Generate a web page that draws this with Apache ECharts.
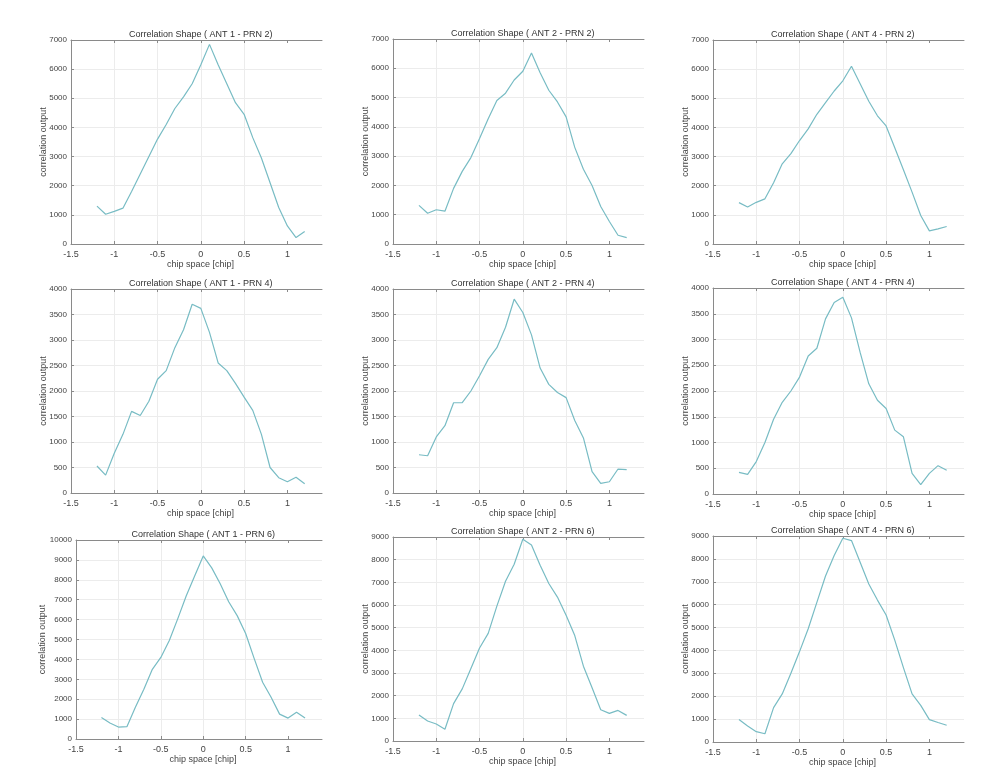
<!DOCTYPE html>
<html>
<head>
<meta charset="utf-8">
<script src="https://cdn.jsdelivr.net/npm/echarts@6/dist/echarts.min.js"></script>
<style>
    html, body { margin: 0; padding: 0; background: #fff; }
    #chartCorr { width: 1001px; height: 784px; }
</style>
</head>
<body>
<div id="chartCorr"></div>
<script>
    // chip offsets, same for every plot
    var chipSpace = [-1.2, -1.1, -1.0, -0.9, -0.8, -0.7, -0.6, -0.5, -0.4, -0.3, -0.2, -0.1, 0,
        0.1, 0.2, 0.3, 0.4, 0.5, 0.6, 0.7, 0.8, 0.9, 1.0, 1.1, 1.2];
    var xTicks = [-1.5, -1, -0.5, 0, 0.5, 1];

    var titles = [
        'Correlation Shape ( ANT 1 - PRN 2)', 'Correlation Shape ( ANT 2 - PRN 2)', 'Correlation Shape ( ANT 4 - PRN 2)',
        'Correlation Shape ( ANT 1 - PRN 4)', 'Correlation Shape ( ANT 2 - PRN 4)', 'Correlation Shape ( ANT 4 - PRN 4)',
        'Correlation Shape ( ANT 1 - PRN 6)', 'Correlation Shape ( ANT 2 - PRN 6)', 'Correlation Shape ( ANT 4 - PRN 6)'
    ];

    var ant1Prn2 = [1300, 1020, 1120, 1230, 1800, 2400, 3000, 3600, 4100, 4650, 5050, 5500, 6150,
        6850, 6150, 5500, 4850, 4450, 3650, 2950, 2100, 1250, 620, 220, 430];
    var ant2Prn2 = [1320, 1050, 1170, 1120, 1900, 2480, 2950, 3600, 4280, 4900, 5150, 5600, 5900,
        6520, 5850, 5250, 4850, 4340, 3300, 2550, 2000, 1280, 770, 300, 220];
    var ant4Prn2 = [1420, 1270, 1430, 1550, 2100, 2750, 3100, 3550, 3950, 4450, 4850, 5250, 5600,
        6100, 5500, 4900, 4400, 4050, 3300, 2550, 1780, 980, 450, 520, 600];

    var ant1Prn4 = [530, 350, 780, 1150, 1600, 1520, 1800, 2230, 2400, 2850, 3200, 3700, 3620,
        3150, 2550, 2400, 2150, 1880, 1620, 1150, 500, 300, 220, 310, 180];
    var ant2Prn4 = [750, 730, 1100, 1320, 1770, 1770, 2000, 2300, 2620, 2850, 3250, 3800, 3540,
        3100, 2450, 2130, 1970, 1870, 1420, 1080, 420, 190, 220, 470, 460];
    var ant4Prn4 = [420, 380, 630, 1000, 1450, 1780, 2000, 2270, 2680, 2830, 3400, 3720, 3820,
        3420, 2750, 2140, 1820, 1660, 1240, 1110, 400, 180, 400, 550, 460];

    var ant1Prn6 = [1080, 800, 600, 620, 1600, 2500, 3500, 4100, 4950, 6050, 7200, 8200, 9200,
        8600, 7800, 6900, 6200, 5300, 4050, 2850, 2100, 1250, 1050, 1350, 1050];
    var ant2Prn6 = [1150, 880, 750, 520, 1650, 2300, 3200, 4100, 4750, 5950, 7050, 7800, 8900,
        8650, 7750, 6950, 6350, 5550, 4650, 3300, 2350, 1380, 1220, 1350, 1130];
    var ant4Prn6 = [980, 700, 450, 360, 1500, 2100, 3000, 3950, 4950, 6100, 7250, 8150, 8900,
        8800, 7850, 6900, 6200, 5550, 4450, 3250, 2100, 1600, 980, 850, 730];

    var yMax = [7000, 7000, 7000, 4000, 4000, 4000, 10000, 9000, 9000];
    var yStep = [1000, 1000, 1000, 500, 500, 500, 1000, 1000, 1000];

    var allSeries = [ant1Prn2, ant2Prn2, ant4Prn2, ant1Prn4, ant2Prn4, ant4Prn4, ant1Prn6, ant2Prn6, ant4Prn6];

    // plot boxes: [left, top, width, height, y-name gap]
    var boxes = [
        [71, 40, 251, 204, 23], [393, 39, 251, 205, 23], [713, 40, 251, 204, 23],
        [71, 289, 251, 204, 23], [393, 289, 251, 204, 23], [713, 288, 251, 206, 23],
        [76, 540, 246, 199, 29], [393, 537, 251, 204, 23], [713, 536, 251, 206, 23]
    ];

    var font = "'Liberation Sans', Arial, sans-serif";
    var axisColor = '#8a8a8a';
    var textColor = '#444';
    var gridColor = '#ececec';
    var lineColor = '#78bcc4';

    var option = {
        animation: false,
        backgroundColor: '#fff',
        title: [],
        grid: [],
        xAxis: [],
        yAxis: [],
        series: []
    };

    boxes.forEach(function (b, i) {
        var unit = b[2] / 2.9;
        option.grid.push({ left: b[0], top: b[1], width: b[2], height: b[3], containLabel: false });
        option.title.push({
            text: titles[i],
            left: b[0] + unit * 1.5,
            top: b[1] - 10,
            textAlign: 'center',
            padding: 0,
            textStyle: { fontSize: 9, fontWeight: 'normal', color: '#333', fontFamily: font }
        });
        // bottom axis
        option.xAxis.push({
            gridIndex: i,
            type: 'value',
            position: 'bottom',
            min: -1.5,
            max: 1.4,
            name: 'chip space [chip]',
            nameLocation: 'middle',
            nameGap: 16,
            nameTextStyle: { fontSize: 9, color: textColor, fontFamily: font, padding: [0, 0, 0, 8] },
            axisLine: { show: true, onZero: false, lineStyle: { color: axisColor, width: 1 } },
            axisTick: { show: true, inside: true, length: 3, customValues: xTicks, lineStyle: { color: axisColor } },
            axisLabel: {
                customValues: xTicks,
                margin: 6,
                fontSize: 9,
                color: textColor,
                fontFamily: font,
                formatter: function (v) { return String(v); }
            },
            splitLine: { show: true, showMaxLine: false, lineStyle: { color: gridColor, width: 1 } }
        });
        // top border of the box
        option.xAxis.push({
            gridIndex: i,
            type: 'value',
            position: 'top',
            min: -1.5,
            max: 1.4,
            axisLine: { show: true, onZero: false, lineStyle: { color: axisColor, width: 1 } },
            axisTick: { show: true, inside: true, length: 3, customValues: xTicks, lineStyle: { color: axisColor } },
            axisLabel: { show: false },
            splitLine: { show: false }
        });
        option.yAxis.push({
            gridIndex: i,
            type: 'value',
            min: 0,
            max: yMax[i],
            interval: yStep[i],
            name: 'correlation output',
            nameLocation: 'middle',
            nameGap: b[4],
            nameRotate: 90,
            nameMoveOverlap: false,
            nameTextStyle: { fontSize: 9, color: textColor, fontFamily: font },
            axisLine: { show: true, onZero: false, lineStyle: { color: axisColor, width: 1 } },
            axisTick: { show: true, inside: true, length: 3, lineStyle: { color: axisColor } },
            axisLabel: {
                margin: 4,
                fontSize: 8,
                color: textColor,
                fontFamily: font,
                formatter: function (v) { return String(v); }
            },
            splitLine: { show: true, lineStyle: { color: gridColor, width: 1 } }
        });
        option.series.push({
            type: 'line',
            xAxisIndex: i * 2,
            yAxisIndex: i,
            symbol: 'none',
            lineStyle: { color: lineColor, width: 1.2 },
            data: chipSpace.map(function (x, j) { return [x, allSeries[i][j]]; })
        });
    });

    var myChart = echarts.init(document.getElementById('chartCorr'));
    myChart.setOption(option);
</script>
</body>
</html>
